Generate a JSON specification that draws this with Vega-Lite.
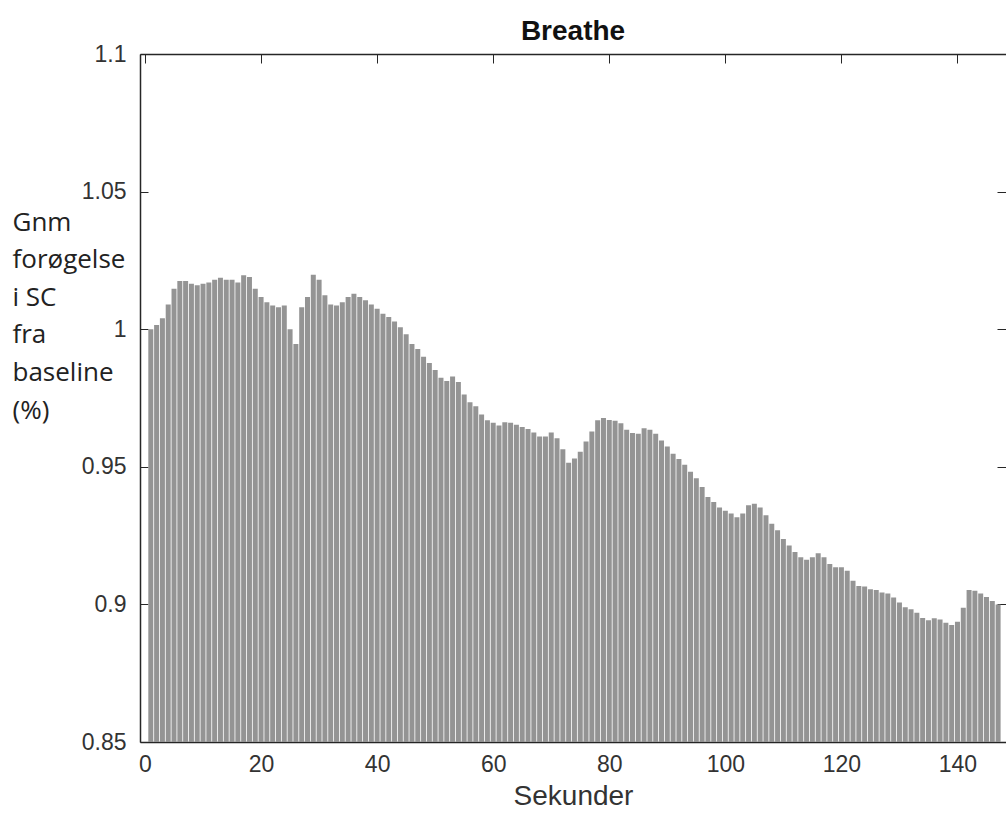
{
  "$schema": "https://vega.github.io/schema/vega-lite/v6.json",
  "width": 866,
  "height": 688,
  "autosize": {"type": "none"},
  "padding": {"left": 140, "top": 54, "right": 0, "bottom": 79},
  "background": "white",
  "config": {"view": {"stroke": null}, "font": "Liberation Sans"},
  "title": {"text": "Breathe", "fontSize": 28, "fontWeight": "bold", "color": "#111111", "anchor": "middle", "offset": -3, "font": "Liberation Sans"},
  "data": {"values": [
    {"t":1,"v":1.000},{"t":2,"v":1.0015},{"t":3,"v":1.004},{"t":4,"v":1.009},{"t":5,"v":1.0147},
    {"t":6,"v":1.0175},{"t":7,"v":1.0175},{"t":8,"v":1.0165},{"t":9,"v":1.016},{"t":10,"v":1.0165},
    {"t":11,"v":1.017},{"t":12,"v":1.018},{"t":13,"v":1.0187},{"t":14,"v":1.018},{"t":15,"v":1.018},
    {"t":16,"v":1.017},{"t":17,"v":1.0196},{"t":18,"v":1.019},{"t":19,"v":1.0147},{"t":20,"v":1.0117},
    {"t":21,"v":1.0098},{"t":22,"v":1.0086},{"t":23,"v":1.008},{"t":24,"v":1.0086},{"t":25,"v":1.000},
    {"t":26,"v":0.9946},{"t":27,"v":1.008},{"t":28,"v":1.0117},{"t":29,"v":1.0198},{"t":30,"v":1.018},
    {"t":31,"v":1.0123},{"t":32,"v":1.009},{"t":33,"v":1.0086},{"t":34,"v":1.0098},{"t":35,"v":1.0117},
    {"t":36,"v":1.0129},{"t":37,"v":1.0117},{"t":38,"v":1.0105},{"t":39,"v":1.009},{"t":40,"v":1.0074},
    {"t":41,"v":1.0056},{"t":42,"v":1.0044},{"t":43,"v":1.0028},{"t":44,"v":1.0007},{"t":45,"v":0.9982},
    {"t":46,"v":0.9946},{"t":47,"v":0.9928},{"t":48,"v":0.99},{"t":49,"v":0.9877},{"t":50,"v":0.9852},
    {"t":51,"v":0.9824},{"t":52,"v":0.9812},{"t":53,"v":0.9828},{"t":54,"v":0.9808},{"t":55,"v":0.9763},
    {"t":56,"v":0.9735},{"t":57,"v":0.972},{"t":58,"v":0.969},{"t":59,"v":0.9669},{"t":60,"v":0.966},
    {"t":61,"v":0.965},{"t":62,"v":0.9662},{"t":63,"v":0.966},{"t":64,"v":0.9653},{"t":65,"v":0.9645},
    {"t":66,"v":0.9637},{"t":67,"v":0.9625},{"t":68,"v":0.961},{"t":69,"v":0.961},{"t":70,"v":0.9625},
    {"t":71,"v":0.9604},{"t":72,"v":0.9564},{"t":73,"v":0.9515},{"t":74,"v":0.953},{"t":75,"v":0.9555},
    {"t":76,"v":0.9592},{"t":77,"v":0.9628},{"t":78,"v":0.9669},{"t":79,"v":0.9677},{"t":80,"v":0.967},
    {"t":81,"v":0.9667},{"t":82,"v":0.9658},{"t":83,"v":0.9635},{"t":84,"v":0.9623},{"t":85,"v":0.962},
    {"t":86,"v":0.964},{"t":87,"v":0.9635},{"t":88,"v":0.962},{"t":89,"v":0.9596},{"t":90,"v":0.9574},
    {"t":91,"v":0.9547},{"t":92,"v":0.9528},{"t":93,"v":0.9507},{"t":94,"v":0.9482},{"t":95,"v":0.9458},
    {"t":96,"v":0.9427},{"t":97,"v":0.939},{"t":98,"v":0.9372},{"t":99,"v":0.9352},{"t":100,"v":0.934},
    {"t":101,"v":0.933},{"t":102,"v":0.9317},{"t":103,"v":0.933},{"t":104,"v":0.936},{"t":105,"v":0.9366},
    {"t":106,"v":0.9352},{"t":107,"v":0.9324},{"t":108,"v":0.9293},{"t":109,"v":0.9269},{"t":110,"v":0.9238},
    {"t":111,"v":0.9214},{"t":112,"v":0.919},{"t":113,"v":0.9171},{"t":114,"v":0.9162},{"t":115,"v":0.9171},
    {"t":116,"v":0.9186},{"t":117,"v":0.9171},{"t":118,"v":0.9147},{"t":119,"v":0.9135},{"t":120,"v":0.9135},
    {"t":121,"v":0.9122},{"t":122,"v":0.9086},{"t":123,"v":0.9067},{"t":124,"v":0.9065},{"t":125,"v":0.9055},
    {"t":126,"v":0.9052},{"t":127,"v":0.9043},{"t":128,"v":0.904},{"t":129,"v":0.9025},{"t":130,"v":0.9007},
    {"t":131,"v":0.899},{"t":132,"v":0.8982},{"t":133,"v":0.897},{"t":134,"v":0.8951},{"t":135,"v":0.8942},
    {"t":136,"v":0.895},{"t":137,"v":0.8945},{"t":138,"v":0.8933},{"t":139,"v":0.8925},{"t":140,"v":0.8937},
    {"t":141,"v":0.8988},{"t":142,"v":0.9052},{"t":143,"v":0.905},{"t":144,"v":0.904},{"t":145,"v":0.9027},
    {"t":146,"v":0.9012},{"t":147,"v":0.900}
  ]},
  "layer": [
    {
      "mark": {"type": "bar", "width": 5, "color": "#949494", "clip": true},
      "encoding": {
        "x": {"field": "t", "type": "quantitative",
          "scale": {"domain": [0, 147.5], "nice": false, "zero": false},
          "axis": {"orient": "bottom", "values": [0,20,40,60,80,100,120,140], "grid": false,
            "ticks": false, "domainColor": "#262626", "domainWidth": 1.5,
            "labelFontSize": 23, "labelColor": "#333333", "labelPadding": 11, "labelFont": "Liberation Sans",
            "title": "Sekunder", "titleFontSize": 28, "titleFontWeight": "normal", "titleColor": "#333333",
            "titlePadding": 6, "titleFont": "Liberation Sans"}},
        "y": {"field": "v", "type": "quantitative",
          "scale": {"domain": [0.85, 1.1], "nice": false, "zero": false},
          "axis": {"orient": "left", "values": [0.85,0.9,0.95,1,1.05,1.1], "format": "~g", "grid": false,
            "tickSize": -8, "tickColor": "#262626", "domainColor": "#262626", "domainWidth": 1.5,
            "labelFontSize": 23, "labelColor": "#333333", "labelPadding": 22, "labelFont": "Liberation Sans",
            "title": ["Gnm", "forøgelse", "i SC", "fra", "baseline", "(%)"],
            "titleAngle": 0, "titleAlign": "left", "titleBaseline": "top",
            "titleX": -128, "titleY": 155, "titleFont": "Open Sans", "titleFontSize": 26,
            "titleFontWeight": "normal", "titleLineHeight": 37.6, "titleColor": "#222222"}}
      }
    },
    {
      "mark": {"type": "point", "opacity": 0},
      "encoding": {
        "x": {"field": "t", "type": "quantitative",
          "axis": {"orient": "top", "values": [0,20,40,60,80,100,120,140], "labels": false, "grid": false,
            "tickSize": -9, "tickColor": "#262626", "domainColor": "#262626", "domainWidth": 1.5, "title": null}},
        "y": {"field": "v", "type": "quantitative",
          "axis": {"orient": "right", "values": [0.85,0.9,0.95,1,1.05,1.1], "labels": false, "grid": false,
            "domain": false, "tickSize": -9, "tickColor": "#262626", "title": null}}
      }
    }
  ],
  "resolve": {"axis": {"x": "independent", "y": "independent"}}
}
